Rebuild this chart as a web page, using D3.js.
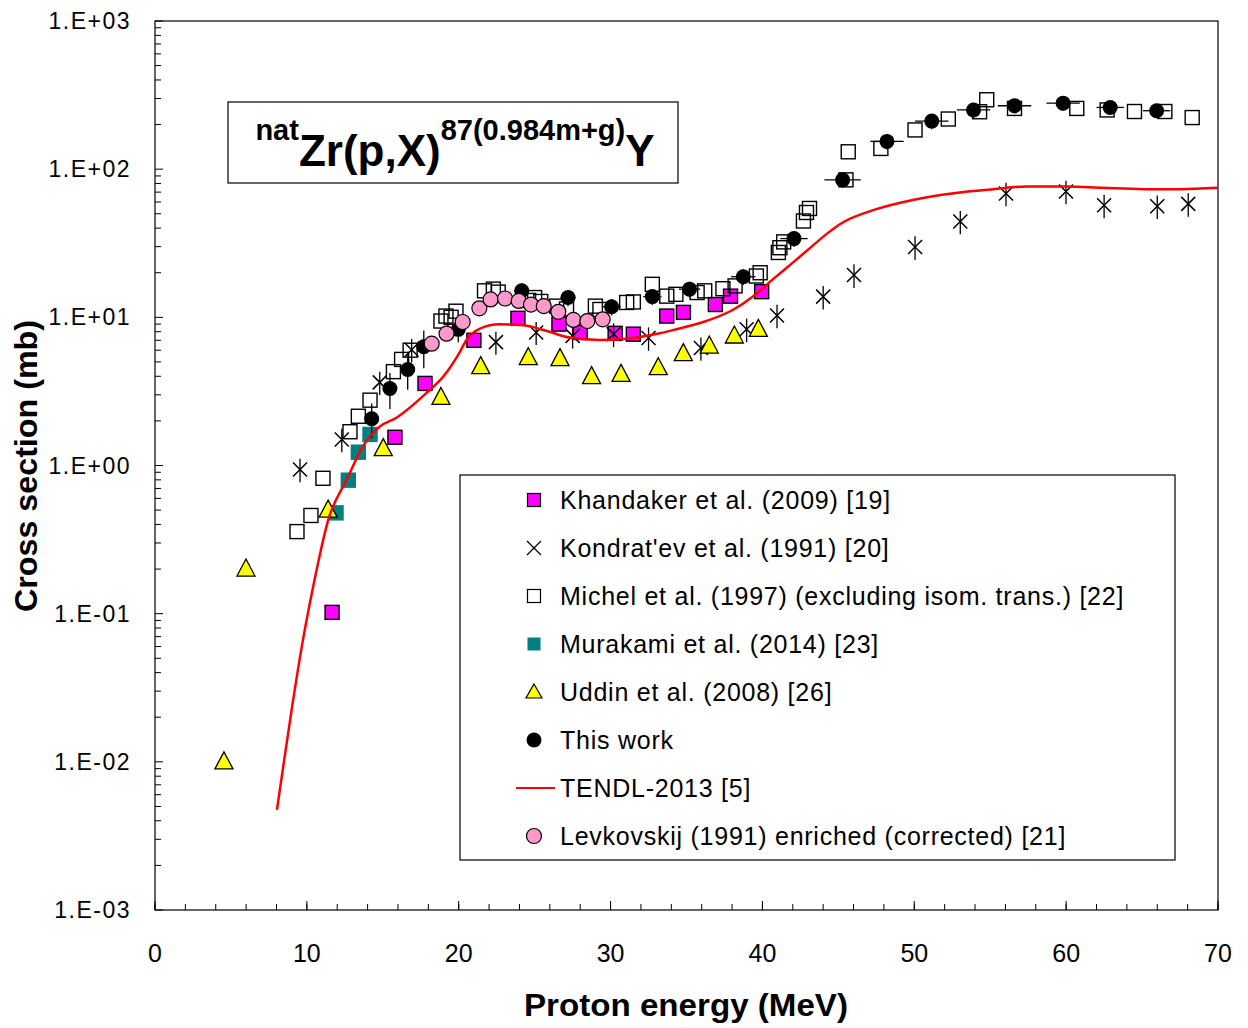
<!DOCTYPE html>
<html><head><meta charset="utf-8">
<script src="https://cdn.jsdelivr.net/npm/d3@7"></script>
<style>body{margin:0;background:#fff}svg{display:block;font-family:"Liberation Sans",Arial,sans-serif}</style>
</head><body><svg id="c" width="1248" height="1028"></svg>
<script>
// ---- data ----
const khandakerE = [11.66,15.8,17.78,21.0,23.9,26.6,28.0,30.3,31.5,33.7,34.8,36.9,37.9,39.95];
const khandakerS = [0.102,1.55,3.58,7.0,9.85,9.0,7.9,7.8,7.7,10.2,10.8,12.2,13.9,14.9];

const kondratevE = [9.55,12.3,14.8,16.9,22.45,25.1,27.5,30.2,32.5,35.95,38.96,40.96,44.0,46.03,50.05,53.03,56.04,59.99,62.5,66.0,68.04];
const kondratevS = [0.94,1.5,3.64,6.05,6.8,7.9,7.5,7.7,7.25,6.2,8.3,10.3,13.8,19.3,29.8,44.3,68.6,70.7,57,56.2,58.3];
const kondratevDS= [0.17,0.27,0.65,1.1,1.2,1.4,1.35,1.4,1.3,1.1,1.5,1.85,2.5,3.5,5.4,8.0,12.3,12.7,10.3,10.1,10.5];

const michelE = [9.35,10.27,11.06,12.84,13.39,14.16,15.7,16.24,16.8,18.83,19.16,19.5,19.82,
  21.7,22.28,22.6,24.6,25.0,25.4,26.45,27.1,29.0,29.3,31.06,31.5,32.75,33.7,34.3,35.7,36.2,37.4,38.2,
  39.6,39.85,41.05,41.15,41.4,42.7,42.9,43.1,45.5,45.65,47.8,50.05,52.24,54.3,54.77,56.6,60.7,62.7,64.5,66.5,68.3];
const michelS = [0.358,0.46,0.82,1.69,2.15,2.76,4.3,5.2,6.0,9.44,10.2,10.0,11.0,
  15.1,15.5,14.8,13.0,13.6,12.8,11.9,11.4,11.9,11.3,12.6,12.7,16.7,13.9,14.3,14.7,15.1,15.6,16.3,
  19.0,20.0,27.4,29.5,32.3,44.7,51,54.3,84.7,131,138,184,218,244,294,257,257,251,245,245,223];

const murakamiE = [11.92,12.73,13.39,14.16];
const murakamiS = [0.479,0.796,1.23,1.62];

const uddinE = [4.54,5.99,11.4,15.03,18.83,21.45,24.58,26.67,28.75,30.69,33.14,34.79,36.5,38.15,39.73];
const uddinS = [0.01,0.20,0.5,1.3,2.88,4.65,5.34,5.26,3.98,4.12,4.57,5.69,6.4,7.48,8.3];

const thisWorkE  = [14.27,15.47,16.64,17.7,19.97,24.15,27.2,30.07,32.75,35.2,38.74,42.08,45.28,48.2,51.15,53.9,56.6,59.8,62.9,65.96];
const thisWorkS  = [2.07,3.31,4.45,6.34,8.3,15.1,13.6,11.8,13.8,15.5,18.8,34,84.7,154,211,251,268,279,261,248];
const thisWorkDE = [0.3,0.3,0.3,0.3,0.4,0.5,0.5,0.6,0.6,0.7,0.8,0.9,1.2,1.1,1.1,1.1,1.1,1.1,0.9,0.9];
const thisWorkDS = [0.55,0.9,1.2,1.8,1.5,1.9,1.7,1.5,1.7,1.9,2.3,4.2,10,18,25,29,30,31,29,27];

const tendlE = [8.03,8.49,9.02,9.63,10.42,11.41,12.62,13.7,14.8,15.9,17.9,19.0,20.1,20.5,21.4,22.7,24.25,25.8,27.3,29.3,31.06,33.25,34.1,36.3,38.1,39.4,40.7,42.0,42.9,44.34,45.1,47.5,49.9,52.6,55.2,57.4,60.0,62.4,65.1,67.5,70.0];
const tendlS = [0.00474,0.0100,0.0232,0.057,0.153,0.43,0.80,1.35,1.83,2.1,3.1,4.0,5.9,7.0,8.4,8.97,8.83,8.09,7.3,7.03,7.18,7.8,8.2,9.44,11.3,13.9,18.1,23.4,28,37.3,42.5,53.7,62,68.9,73.3,76.4,76.4,74.8,73.3,73.3,74.8];

const levkovskijE = [18.22,19.2,20.26,21.36,22.1,23.05,23.95,24.76,25.6,26.56,27.55,28.47,29.48];
const levkovskijS = [6.64,7.76,9.3,11.5,13.2,13.4,12.9,12.2,11.9,10.9,9.6,9.44,9.7];

const yTickValues = [1e-3,1e-2,1e-1,1e0,1e1,1e2,1e3];
const xTickValues = [0,10,20,30,40,50,60,70];
const legendLabels = ["Khandaker et al. (2009) [19]","Kondrat'ev et al. (1991) [20]","Michel et al. (1997) (excluding isom. trans.) [22]","Murakami et al. (2014) [23]","Uddin et al. (2008) [26]","This work","TENDL-2013 [5]","Levkovskij (1991) enriched (corrected) [21]"];

// ---- chart ----
const svg = d3.select("#c");
const L=155,R=1218,T=21,B=910;
const x = d3.scaleLinear([0,70],[L,R]);
const y = d3.scaleLog([1e-3,1e3],[B,T]);
const zip = (a,b)=>a.map((v,i)=>[v,b[i]]);

// frame
svg.append("rect").attr("x",L).attr("y",T).attr("width",R-L).attr("height",B-T).attr("fill","none").attr("stroke","#000").attr("stroke-width",1.2);

// y ticks
const yMinor=[];
for(let e=-3;e<3;e++) for(let m=2;m<=9;m++) yMinor.push(m*Math.pow(10,e));
svg.append("g").selectAll("line").data(yMinor).join("line")
 .attr("x1",L).attr("x2",L+6).attr("y1",d=>y(d)).attr("y2",d=>y(d)).attr("stroke","#000").attr("stroke-width",1);
svg.append("g").selectAll("line").data(yTickValues).join("line")
 .attr("x1",L).attr("x2",L+8).attr("y1",d=>y(d)).attr("y2",d=>y(d)).attr("stroke","#000").attr("stroke-width",1);
const fmtY = d=>{const e=Math.round(Math.log10(d));return "1.E"+(e<0?"-":"+")+String(Math.abs(e)).padStart(2,"0");};
svg.append("g").selectAll("text").data(yTickValues).join("text")
 .attr("x",131).attr("y",d=>y(d)+8).attr("text-anchor","end").attr("font-size",23).attr("letter-spacing",1.5).text(fmtY);

// x ticks
const xMinor = d3.range(0,71,2);
svg.append("g").selectAll("line").data(xMinor).join("line")
 .attr("x1",d=>x(d)).attr("x2",d=>x(d)).attr("y1",B).attr("y2",B-6).attr("stroke","#000").attr("stroke-width",1);
svg.append("g").selectAll("line").data(xTickValues).join("line")
 .attr("x1",d=>x(d)).attr("x2",d=>x(d)).attr("y1",B).attr("y2",B-9).attr("stroke","#000").attr("stroke-width",1);
svg.append("g").selectAll("text").data(xTickValues).join("text")
 .attr("x",d=>x(d)).attr("y",962).attr("text-anchor","middle").attr("font-size",25).text(d=>d);

// axis titles
svg.append("text").attr("x",686).attr("y",1016).attr("text-anchor","middle").attr("font-size",31).attr("font-weight","bold")
 .attr("textLength",324).attr("lengthAdjust","spacingAndGlyphs").text("Proton energy (MeV)");
svg.append("text").attr("transform","translate(37,466) rotate(-90)").attr("text-anchor","middle").attr("font-size",31).attr("font-weight","bold")
 .attr("textLength",292).attr("lengthAdjust","spacingAndGlyphs").text("Cross section (mb)");

// title box
svg.append("rect").attr("x",228).attr("y",102).attr("width",450).attr("height",81).attr("fill","#fff").attr("stroke","#000").attr("stroke-width",1.2);
const tt = svg.append("text").attr("x",455).attr("y",166).attr("text-anchor","middle").attr("font-weight","bold").attr("font-size",44);
tt.append("tspan").attr("font-size",29).attr("dy",-26).text("nat");
tt.append("tspan").attr("dy",26).text("Zr(p,X)");
tt.append("tspan").attr("font-size",29).attr("dy",-26).text("87(0.984m+g)");
tt.append("tspan").attr("dy",26).text("Y");

// markers
const sq = 14;
function squares(g,data,fill,stroke){
  g.selectAll("rect").data(data).join("rect")
   .attr("x",d=>x(d[0])-sq/2).attr("y",d=>y(d[1])-sq/2).attr("width",sq).attr("height",sq)
   .attr("fill",fill).attr("stroke",stroke).attr("stroke-width",1.4);
}
const triPath = (cx,cy)=>`M${cx},${cy-10}L${cx+9},${cy+7}L${cx-9},${cy+7}Z`;
const crossPath = (cx,cy)=>`M${cx-7},${cy-7}L${cx+7},${cy+7}M${cx-7},${cy+7}L${cx+7},${cy-7}`;

// Khandaker
squares(svg.append("g"), zip(khandakerE,khandakerS), "#FF00FF", "#000");
// Kondrat'ev
const gK = svg.append("g");
gK.selectAll("line").data(kondratevE.map((e,i)=>[e,kondratevS[i],kondratevDS[i]])).join("line")
 .attr("x1",d=>x(d[0])).attr("x2",d=>x(d[0])).attr("y1",d=>y(d[1]+d[2])).attr("y2",d=>y(d[1]-d[2])).attr("stroke","#000").attr("stroke-width",1.3);
gK.selectAll("path").data(zip(kondratevE,kondratevS)).join("path")
 .attr("d",d=>crossPath(x(d[0]),y(d[1]))).attr("stroke","#000").attr("stroke-width",1.5).attr("fill","none");
// Michel
squares(svg.append("g"), zip(michelE,michelS), "none", "#000");
// Murakami
squares(svg.append("g"), zip(murakamiE,murakamiS), "#008080", "#008080");
// Uddin
svg.append("g").selectAll("path").data(zip(uddinE,uddinS)).join("path")
 .attr("d",d=>triPath(x(d[0]),y(d[1]))).attr("fill","#FFFF00").attr("stroke","#000").attr("stroke-width",1.3);
// This work
const tw = thisWorkE.map((e,i)=>({e,s:thisWorkS[i],de:thisWorkDE[i],ds:thisWorkDS[i]}));
const gT = svg.append("g");
gT.selectAll("line.h").data(tw).join("line").attr("class","h")
 .attr("x1",d=>x(d.e-d.de)).attr("x2",d=>x(d.e+d.de)).attr("y1",d=>y(d.s)).attr("y2",d=>y(d.s)).attr("stroke","#000").attr("stroke-width",1.3);
gT.selectAll("line.v").data(tw).join("line").attr("class","v")
 .attr("x1",d=>x(d.e)).attr("x2",d=>x(d.e)).attr("y1",d=>y(d.s+d.ds)).attr("y2",d=>y(d.s-d.ds)).attr("stroke","#000").attr("stroke-width",1.3);
gT.selectAll("circle").data(tw).join("circle")
 .attr("cx",d=>x(d.e)).attr("cy",d=>y(d.s)).attr("r",7.5).attr("fill","#000");
// TENDL
svg.append("path").datum(zip(tendlE,tendlS))
 .attr("d",d3.line().x(d=>x(d[0])).y(d=>y(d[1])).curve(d3.curveMonotoneX))
 .attr("fill","none").attr("stroke","#FF0000").attr("stroke-width",2.5);
// Levkovskij
svg.append("g").selectAll("circle").data(zip(levkovskijE,levkovskijS)).join("circle")
 .attr("cx",d=>x(d[0])).attr("cy",d=>y(d[1])).attr("r",7.5).attr("fill","#FF99CC").attr("stroke","#000").attr("stroke-width",1.2);

// legend
const lg = svg.append("g");
lg.append("rect").attr("x",460).attr("y",475).attr("width",715).attr("height",385).attr("fill","#fff").attr("stroke","#000").attr("stroke-width",1.2);
const ly = i=>500+i*48;
const sx = 534;
lg.selectAll("text").data(legendLabels).join("text")
 .attr("x",560).attr("y",(d,i)=>ly(i)+9).attr("font-size",25).attr("letter-spacing",0.75).text(d=>d);
const ls=13;
lg.append("rect").attr("x",sx-ls/2).attr("y",ly(0)-ls/2).attr("width",ls).attr("height",ls).attr("fill","#FF00FF").attr("stroke","#000").attr("stroke-width",1.2);
lg.append("path").attr("d",`M${sx-7},${ly(1)-7}L${sx+7},${ly(1)+7}M${sx-7},${ly(1)+7}L${sx+7},${ly(1)-7}`).attr("stroke","#000").attr("stroke-width",1.3);
lg.append("rect").attr("x",sx-ls/2).attr("y",ly(2)-ls/2).attr("width",ls).attr("height",ls).attr("fill","none").attr("stroke","#000").attr("stroke-width",1.2);
lg.append("rect").attr("x",sx-ls/2).attr("y",ly(3)-ls/2).attr("width",ls).attr("height",ls).attr("fill","#008080");
lg.append("path").attr("d",`M${sx},${ly(4)-8}L${sx+8},${ly(4)+6}L${sx-8},${ly(4)+6}Z`).attr("fill","#FFFF00").attr("stroke","#000").attr("stroke-width",1.2);
lg.append("circle").attr("cx",sx).attr("cy",ly(5)).attr("r",7.5).attr("fill","#000");
lg.append("line").attr("x1",516).attr("x2",555).attr("y1",ly(6)).attr("y2",ly(6)).attr("stroke","#FF0000").attr("stroke-width",2.2);
lg.append("circle").attr("cx",sx).attr("cy",ly(7)).attr("r",7.5).attr("fill","#FF99CC").attr("stroke","#000").attr("stroke-width",1.2);
</script></body></html>
